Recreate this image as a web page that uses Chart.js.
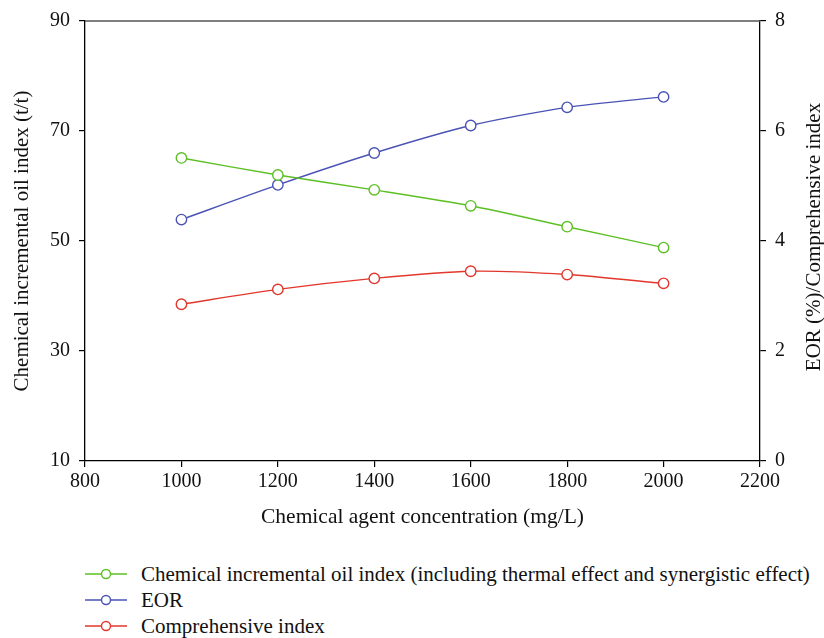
<!DOCTYPE html>
<html>
<head>
<meta charset="utf-8">
<script src="https://cdn.jsdelivr.net/npm/chart.js@4"></script>
<style>
  html, body { margin: 0; padding: 0; background: #fff; }
  body { width: 824px; height: 638px; position: relative; overflow: hidden; font-family: 'Liberation Serif', 'Times New Roman', serif; }
  #wrap { position: absolute; left: 0; top: 0; width: 824px; height: 540px; }
  #legend { position: absolute; left: 85px; top: 561px; }
  .row { display: flex; align-items: center; height: 26px; font-size: 21px; color: #111; }
  .row svg { margin-right: 14px; }
</style>
</head>
<body>
<div id="wrap"><canvas id="c" width="824" height="540"></canvas></div>
<div id="legend"></div>
<script>
const concentrations = [1000, 1200, 1400, 1600, 1800, 2000];
const oilIndex = [65.1, 62.0, 59.3, 56.4, 52.6, 48.8];
const eor = [4.39, 5.02, 5.60, 6.10, 6.43, 6.62];
const comprehensive = [2.85, 3.12, 3.32, 3.45, 3.39, 3.23];
const seriesNames = ['Chemical incremental oil index (including thermal effect and synergistic effect)', 'EOR', 'Comprehensive index'];
const xTitle = 'Chemical agent concentration (mg/L)';
const yLeftTitle = 'Chemical incremental oil index (t/t)';
const yRightTitle = 'EOR (%)/Comprehensive index';

const colors = ['#5cbf23', '#4a53b5', '#e2372c'];
const FONT = "'Liberation Serif', 'Times New Roman', serif";

function pts(vals) { return concentrations.map((x, i) => ({ x: x, y: vals[i] })); }

function ds(label, vals, color, axis) {
  return {
    label: label, data: pts(vals), yAxisID: axis,
    borderColor: color, backgroundColor: '#fff',
    borderWidth: 1.4, pointRadius: 5.2, pointBorderWidth: 1.4,
    pointBackgroundColor: '#fff', pointBorderColor: color,
    tension: 0.25
  };
}

const plainTick = (v) => String(v);

const framePlugin = {
  id: 'frame',
  afterDraw(chart) {
    const { ctx, chartArea } = chart;
    ctx.save();
    ctx.strokeStyle = '#555';
    ctx.lineWidth = 1.5;
    ctx.beginPath();
    ctx.moveTo(chartArea.left, chartArea.top);
    ctx.lineTo(chartArea.right, chartArea.top);
    ctx.stroke();
    // right axis title, reading bottom to top
    ctx.fillStyle = '#111';
    ctx.font = "21px " + FONT;
    ctx.textAlign = 'center';
    ctx.textBaseline = 'middle';
    ctx.translate(814, (chartArea.top + chartArea.bottom) / 2 - 4);
    ctx.rotate(-Math.PI / 2);
    ctx.fillText(yRightTitle, 0, 0);
    ctx.restore();
  }
};

new Chart(document.getElementById('c'), {
  type: 'line',
  data: {
    datasets: [
      ds(seriesNames[0], oilIndex, colors[0], 'yL'),
      ds(seriesNames[1], eor, colors[1], 'yR'),
      ds(seriesNames[2], comprehensive, colors[2], 'yR')
    ]
  },
  options: {
    responsive: false,
    devicePixelRatio: 1,
    animation: false,
    layout: { padding: { top: 18, left: 0, right: 0, bottom: 0 } },
    plugins: { legend: { display: false }, tooltip: { enabled: false } },
    scales: {
      x: {
        type: 'linear', min: 800, max: 2200,
        ticks: { stepSize: 200, color: '#111', font: { family: FONT, size: 20 }, padding: 3, maxRotation: 0, callback: plainTick },
        grid: { display: true, drawOnChartArea: false, drawTicks: true, tickLength: 6, color: '#000', lineWidth: 1.2 },
        border: { display: true, color: '#000', width: 1.3 },
        title: { display: true, text: xTitle, color: '#111', font: { family: FONT, size: 21.5 }, padding: { top: 0, bottom: 10 } },
        afterFit(s) { s.height = 79; }
      },
      yL: {
        type: 'linear', position: 'left', min: 10, max: 90,
        ticks: { stepSize: 20, color: '#111', font: { family: FONT, size: 20 }, padding: 9, callback: plainTick },
        grid: { display: true, drawOnChartArea: false, drawTicks: true, tickLength: 6, color: '#000', lineWidth: 1.2 },
        border: { display: true, color: '#000', width: 1.3 },
        title: { display: true, text: yLeftTitle, color: '#111', font: { family: FONT, size: 21 }, padding: { top: 10, bottom: 0 } },
        afterFit(s) { s.width = 85; }
      },
      yR: {
        type: 'linear', position: 'right', min: 0, max: 8,
        ticks: { stepSize: 2, color: '#111', font: { family: FONT, size: 20 }, padding: 9, callback: plainTick },
        grid: { display: true, drawOnChartArea: false, drawTicks: true, tickLength: 6, color: '#000', lineWidth: 1.2 },
        border: { display: true, color: '#000', width: 1.3 },
        afterFit(s) { s.width = 64; }
      }
    }
  },
  plugins: [framePlugin]
});

// HTML legend
const legend = document.getElementById('legend');
seriesNames.forEach((name, i) => {
  const row = document.createElement('div');
  row.className = 'row';
  row.innerHTML = '<svg width="42" height="14"><line x1="0" y1="7" x2="42" y2="7" stroke="' + colors[i] +
    '" stroke-width="1.4"/><circle cx="21" cy="7" r="4.5" fill="#fff" stroke="' + colors[i] + '" stroke-width="1.4"/></svg>';
  const span = document.createElement('span');
  span.textContent = name;
  row.appendChild(span);
  legend.appendChild(row);
});
</script>
</body>
</html>
